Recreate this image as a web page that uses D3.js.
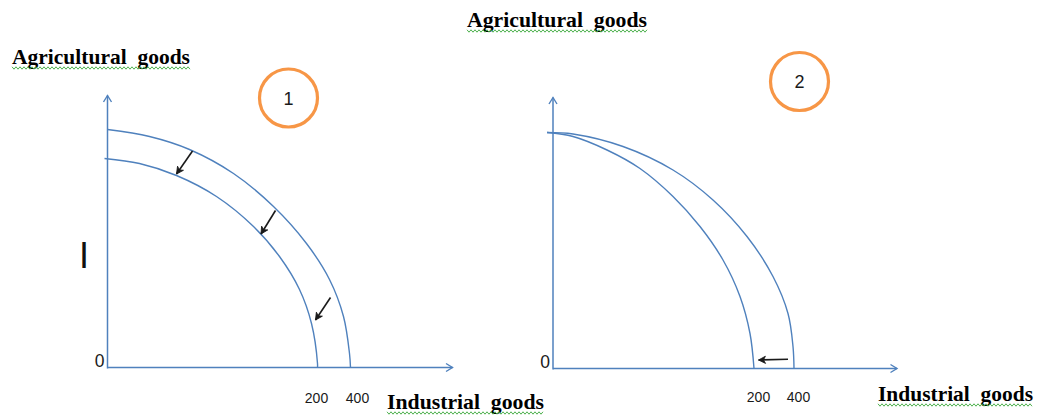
<!DOCTYPE html>
<html><head><meta charset="utf-8">
<script src="https://cdn.jsdelivr.net/npm/d3@7"></script>
<style>html,body{margin:0;padding:0;background:#fff;} svg{display:block;}</style>
</head><body>
<svg id="chart" width="1050" height="417"></svg>
<script>
// ---------- data (in each panel's axis units) ----------
const titleText = "Agricultural  goods";
const yAxisLabel = "Agricultural  goods";
const xAxisLabel = "Industrial  goods";
const originLabel = "0";
const panelNumbers = ["1", "2"];
const tickLabels = ["200", "400"];
const p1TickValues = [208.5, 249.5];
const p2TickValues = [205, 245];

// Panel 1: whole frontier shifts inward
const p1Outer = [[0,238],[42,231],[82,218],[126,194],[166,161],[199,124],[222,88],[236,51],[242,14],[243,0]];
const p1Inner = [[-3,209],[32,204],[69,192],[109,171],[146,141],[172,111],[192,78],[204,44],[210,4],[210,0]];
const p1Shifts = [
  [[85,216.5],[69,193.5]],
  [[168,157],[153.5,133.5]],
  [[223,70],[208,47.5]]
];

// Panel 2: frontier pivots on the vertical intercept
const p2Outer = [[-6,236],[20,234.5],[70,222],[120,198.5],[160,168.5],[194,132],[220,92],[235,55],[240,22],[241,0]];
const p2Inner = [[-6,236],[20,232],[54,218.5],[87,200],[120,172],[147,142],[170,108.5],[187,72],[197,35],[201,0]];
const p2Shifts = [
  [[235,9.2],[205.5,8.5]]
];

// ---------- styling / layout ----------
const BLUE = "#4F81BD";
const ORANGE = "#F79646";
const INK = "#1a1a1a";
const SQUIGGLE = "#3aa83a";
const SERIF = "'Liberation Serif', 'DejaVu Serif', serif";
const SANS = "'Liberation Sans', Arial, sans-serif";

const svg = d3.select("#chart");
const defs = svg.append("defs");

defs.append("marker")
  .attr("id", "axisHead").attr("markerUnits", "userSpaceOnUse")
  .attr("viewBox", "-9 -6 11 12").attr("refX", 0).attr("refY", 0)
  .attr("markerWidth", 11).attr("markerHeight", 12).attr("orient", "auto")
  .append("path").attr("d", "M-6.5,-4 L0,0 L-6.5,4")
  .attr("fill", "none").attr("stroke", BLUE).attr("stroke-width", 1.4);

defs.append("marker")
  .attr("id", "shiftHead").attr("markerUnits", "userSpaceOnUse")
  .attr("viewBox", "-9 -6 11 12").attr("refX", 0).attr("refY", 0)
  .attr("markerWidth", 11).attr("markerHeight", 12).attr("orient", "auto")
  .append("path").attr("d", "M0,0 L-7,-3.6 L-5,0 L-7,3.6 Z")
  .attr("fill", INK).attr("stroke", INK).attr("stroke-width", 0.8).attr("stroke-linejoin", "round");

function squiggle(x0, x1, yb) {
  const pts = [];
  let k = 0;
  for (let x = x0; x <= x1; x += 2, k++) pts.push([x, yb + (k % 2 ? 1.2 : -1.2)]);
  svg.append("path")
    .attr("d", d3.line()(pts))
    .attr("fill", "none").attr("stroke", SQUIGGLE).attr("stroke-width", 0.9);
}

function boldLabel(text, x, yb, width) {
  svg.append("text")
    .attr("x", x).attr("y", yb)
    .attr("textLength", width).attr("lengthAdjust", "spacingAndGlyphs")
    .style("white-space", "pre")
    .attr("font-family", SERIF).attr("font-weight", "bold").attr("font-size", 21)
    .attr("fill", "#000").text(text);
  squiggle(x, x + width, yb + 4);
}

function drawPanel(cfg) {
  const x = d3.scaleLinear().domain([0, cfg.xMax]).range(cfg.xRange);
  const y = d3.scaleLinear().domain([0, cfg.yMax]).range(cfg.yRange);
  const g = svg.append("g");

  // axes (arrowed lines)
  g.append("line")
    .attr("x1", x(0)).attr("y1", y(0) + 1).attr("x2", x(0)).attr("y2", y(cfg.yMax))
    .attr("stroke", BLUE).attr("stroke-width", 1.5).attr("marker-end", "url(#axisHead)");
  g.append("line")
    .attr("x1", x(0)).attr("y1", y(0)).attr("x2", x(cfg.xMax)).attr("y2", y(0))
    .attr("stroke", BLUE).attr("stroke-width", 1.5).attr("marker-end", "url(#axisHead)");

  // tick labels via d3 axis
  const ax = g.append("g").attr("transform", `translate(0,${y(0)})`)
    .call(d3.axisBottom(x).tickValues(cfg.ticks)
      .tickFormat((d, i) => tickLabels[i]).tickSize(0).tickPadding(cfg.tickPad));
  ax.select(".domain").remove();
  ax.selectAll("text").attr("font-family", SANS).attr("font-size", 14).attr("fill", INK);

  // origin label
  g.append("text").attr("x", x(0) - 3).attr("y", y(0) - 1)
    .attr("text-anchor", "end").attr("font-family", SANS).attr("font-size", 17.5)
    .attr("fill", INK).text(originLabel);

  // frontiers
  const line = d3.line().x(d => x(d[0])).y(d => y(d[1])).curve(d3.curveCatmullRom.alpha(0.5));
  [cfg.outer, cfg.inner].forEach(series => {
    g.append("path").attr("d", line(series))
      .attr("fill", "none").attr("stroke", BLUE).attr("stroke-width", 1.4);
  });

  // shift arrows
  cfg.shifts.forEach(s => {
    g.append("line")
      .attr("x1", x(s[0][0])).attr("y1", y(s[0][1]))
      .attr("x2", x(s[1][0])).attr("y2", y(s[1][1]))
      .attr("stroke", INK).attr("stroke-width", 1.6).attr("marker-end", "url(#shiftHead)");
  });

  // numbered circle
  g.append("circle").attr("cx", cfg.badge[0]).attr("cy", cfg.badge[1]).attr("r", 29)
    .attr("fill", "none").attr("stroke", ORANGE).attr("stroke-width", 3.2);
  g.append("text").attr("x", cfg.badge[0]).attr("y", cfg.badge[1] + 6.5)
    .attr("text-anchor", "middle").attr("font-family", SANS).attr("font-size", 18)
    .attr("fill", INK).text(cfg.number);
}

drawPanel({
  xMax: 345, yMax: 272, xRange: [107.5, 452.5], yRange: [367.5, 95.5],
  ticks: p1TickValues, tickPad: 26,
  outer: p1Outer, inner: p1Inner, shifts: p1Shifts,
  badge: [288.5, 98], number: panelNumbers[0]
});
drawPanel({
  xMax: 344, yMax: 271, xRange: [553, 897], yRange: [368.5, 97.5],
  ticks: p2TickValues, tickPad: 23.5,
  outer: p2Outer, inner: p2Inner, shifts: p2Shifts,
  badge: [799.5, 81.5], number: panelNumbers[1]
});

// titles / axis names
boldLabel(titleText, 467, 27, 180);
boldLabel(yAxisLabel, 12, 64, 178);
boldLabel(xAxisLabel, 387, 409, 157);
boldLabel(xAxisLabel, 878, 401, 155);

// stray "I" mark on the left
svg.append("text").attr("x", 84).attr("y", 268).attr("text-anchor", "middle")
  .attr("font-family", SANS).attr("font-size", 36).attr("fill", "#111").text("I");
</script>
</body></html>
